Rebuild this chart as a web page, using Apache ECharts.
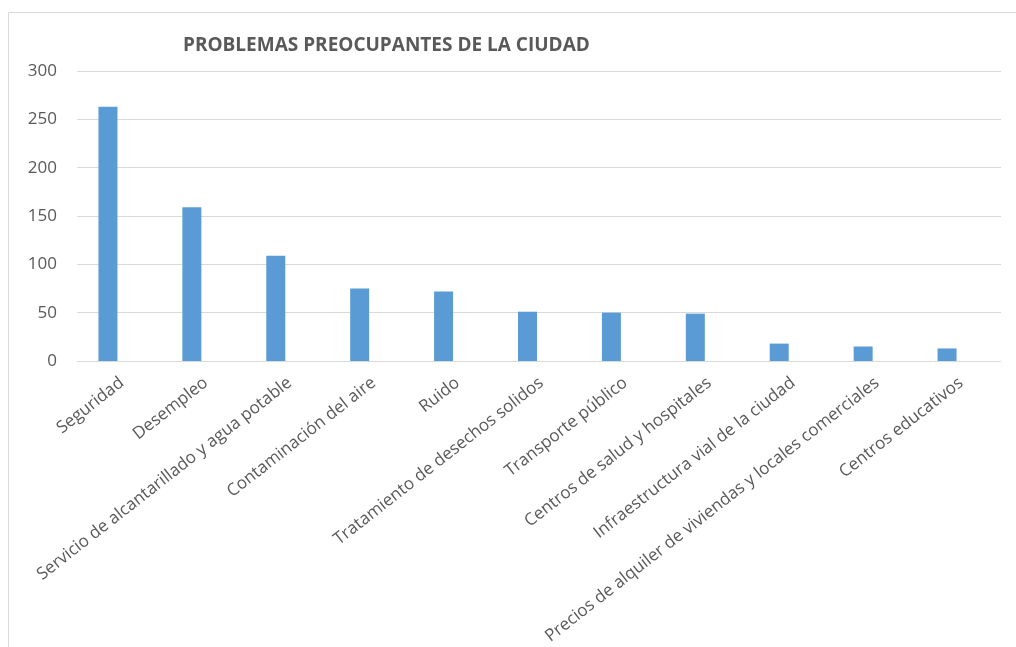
<!DOCTYPE html>
<html>
<head>
<meta charset="utf-8">
<title>Problemas preocupantes de la ciudad</title>
<script src="https://cdn.jsdelivr.net/npm/echarts@6/dist/echarts.min.js"></script>
<style>
  html, body { margin: 0; padding: 0; background: #fff; }
  #chart { width: 1016px; height: 647px; }
</style>
</head>
<body>
<div id="chart"></div>
<script>
// datos
var categorias = [
  "Seguridad",
  "Desempleo",
  "Servicio de alcantarillado y agua potable",
  "Contaminación del aire",
  "Ruido",
  "Tratamiento de desechos solidos",
  "Transporte público",
  "Centros de salud y hospitales",
  "Infraestructura vial de la ciudad",
  "Precios de alquiler de viviendas y locales comerciales",
  "Centros educativos"
];
var valores = [263, 159, 109, 75, 72, 51, 50, 49, 18, 15, 13];
var ticksY = [0, 50, 100, 150, 200, 250, 300];

var fuente = "Open Sans";
var gris = "#595959";

var chart = echarts.init(document.getElementById("chart"));
chart.setOption({
  animation: false,
  title: {
    text: "PROBLEMAS PREOCUPANTES DE LA CIUDAD",
    left: 178,
    top: 31,
    textStyle: { fontFamily: fuente, fontSize: 19, fontWeight: "bold", color: gris }
  },
  graphic: [
    {
      type: "rect",
      shape: { x: 8.5, y: 12.5, width: 1100, height: 800 },
      style: { fill: "none", stroke: "#d9d9d9", lineWidth: 1 },
      silent: true
    }
  ],
  grid: [
    // rejilla de lineas horizontales y etiquetas Y
    { left: 77, right: 15, top: 71, height: 290 },
    // barras (la banda de categorias va un poco desplazada a la izquierda)
    { left: 66, right: 27, top: 71, height: 290 },
    // etiquetas de categorias, algo a la derecha de las barras
    { left: 80, right: 13, top: 71, height: 290 }
  ],
  xAxis: [
    { gridIndex: 0, type: "value", show: false },
    { gridIndex: 1, type: "category", data: categorias, show: false },
    {
      gridIndex: 2,
      type: "category",
      data: categorias,
      axisLine: { show: false },
      axisTick: { show: false },
      axisLabel: {
        interval: 0,
        rotate: 38,
        margin: 20,
        fontFamily: fuente,
        fontSize: 17,
        color: gris
      }
    }
  ],
  yAxis: [
    {
      gridIndex: 0,
      type: "value",
      min: 0,
      max: 300,
      interval: 50,
      axisLine: { show: false },
      axisTick: { show: false },
      axisLabel: {
        margin: 20,
        fontFamily: fuente,
        fontSize: 17,
        color: gris,
        formatter: function (v) { return ticksY.indexOf(v) >= 0 ? v : ""; }
      },
      splitLine: { lineStyle: { color: "#d9d9d9", width: 1 } }
    },
    { gridIndex: 1, type: "value", min: 0, max: 300, interval: 50, show: false },
    { gridIndex: 2, type: "value", min: 0, max: 300, interval: 50, show: false }
  ],
  series: [
    {
      type: "bar",
      xAxisIndex: 1,
      yAxisIndex: 1,
      data: valores,
      barWidth: 19,
      itemStyle: { color: "#5b9bd5" }
    }
  ]
});
</script>
</body>
</html>
